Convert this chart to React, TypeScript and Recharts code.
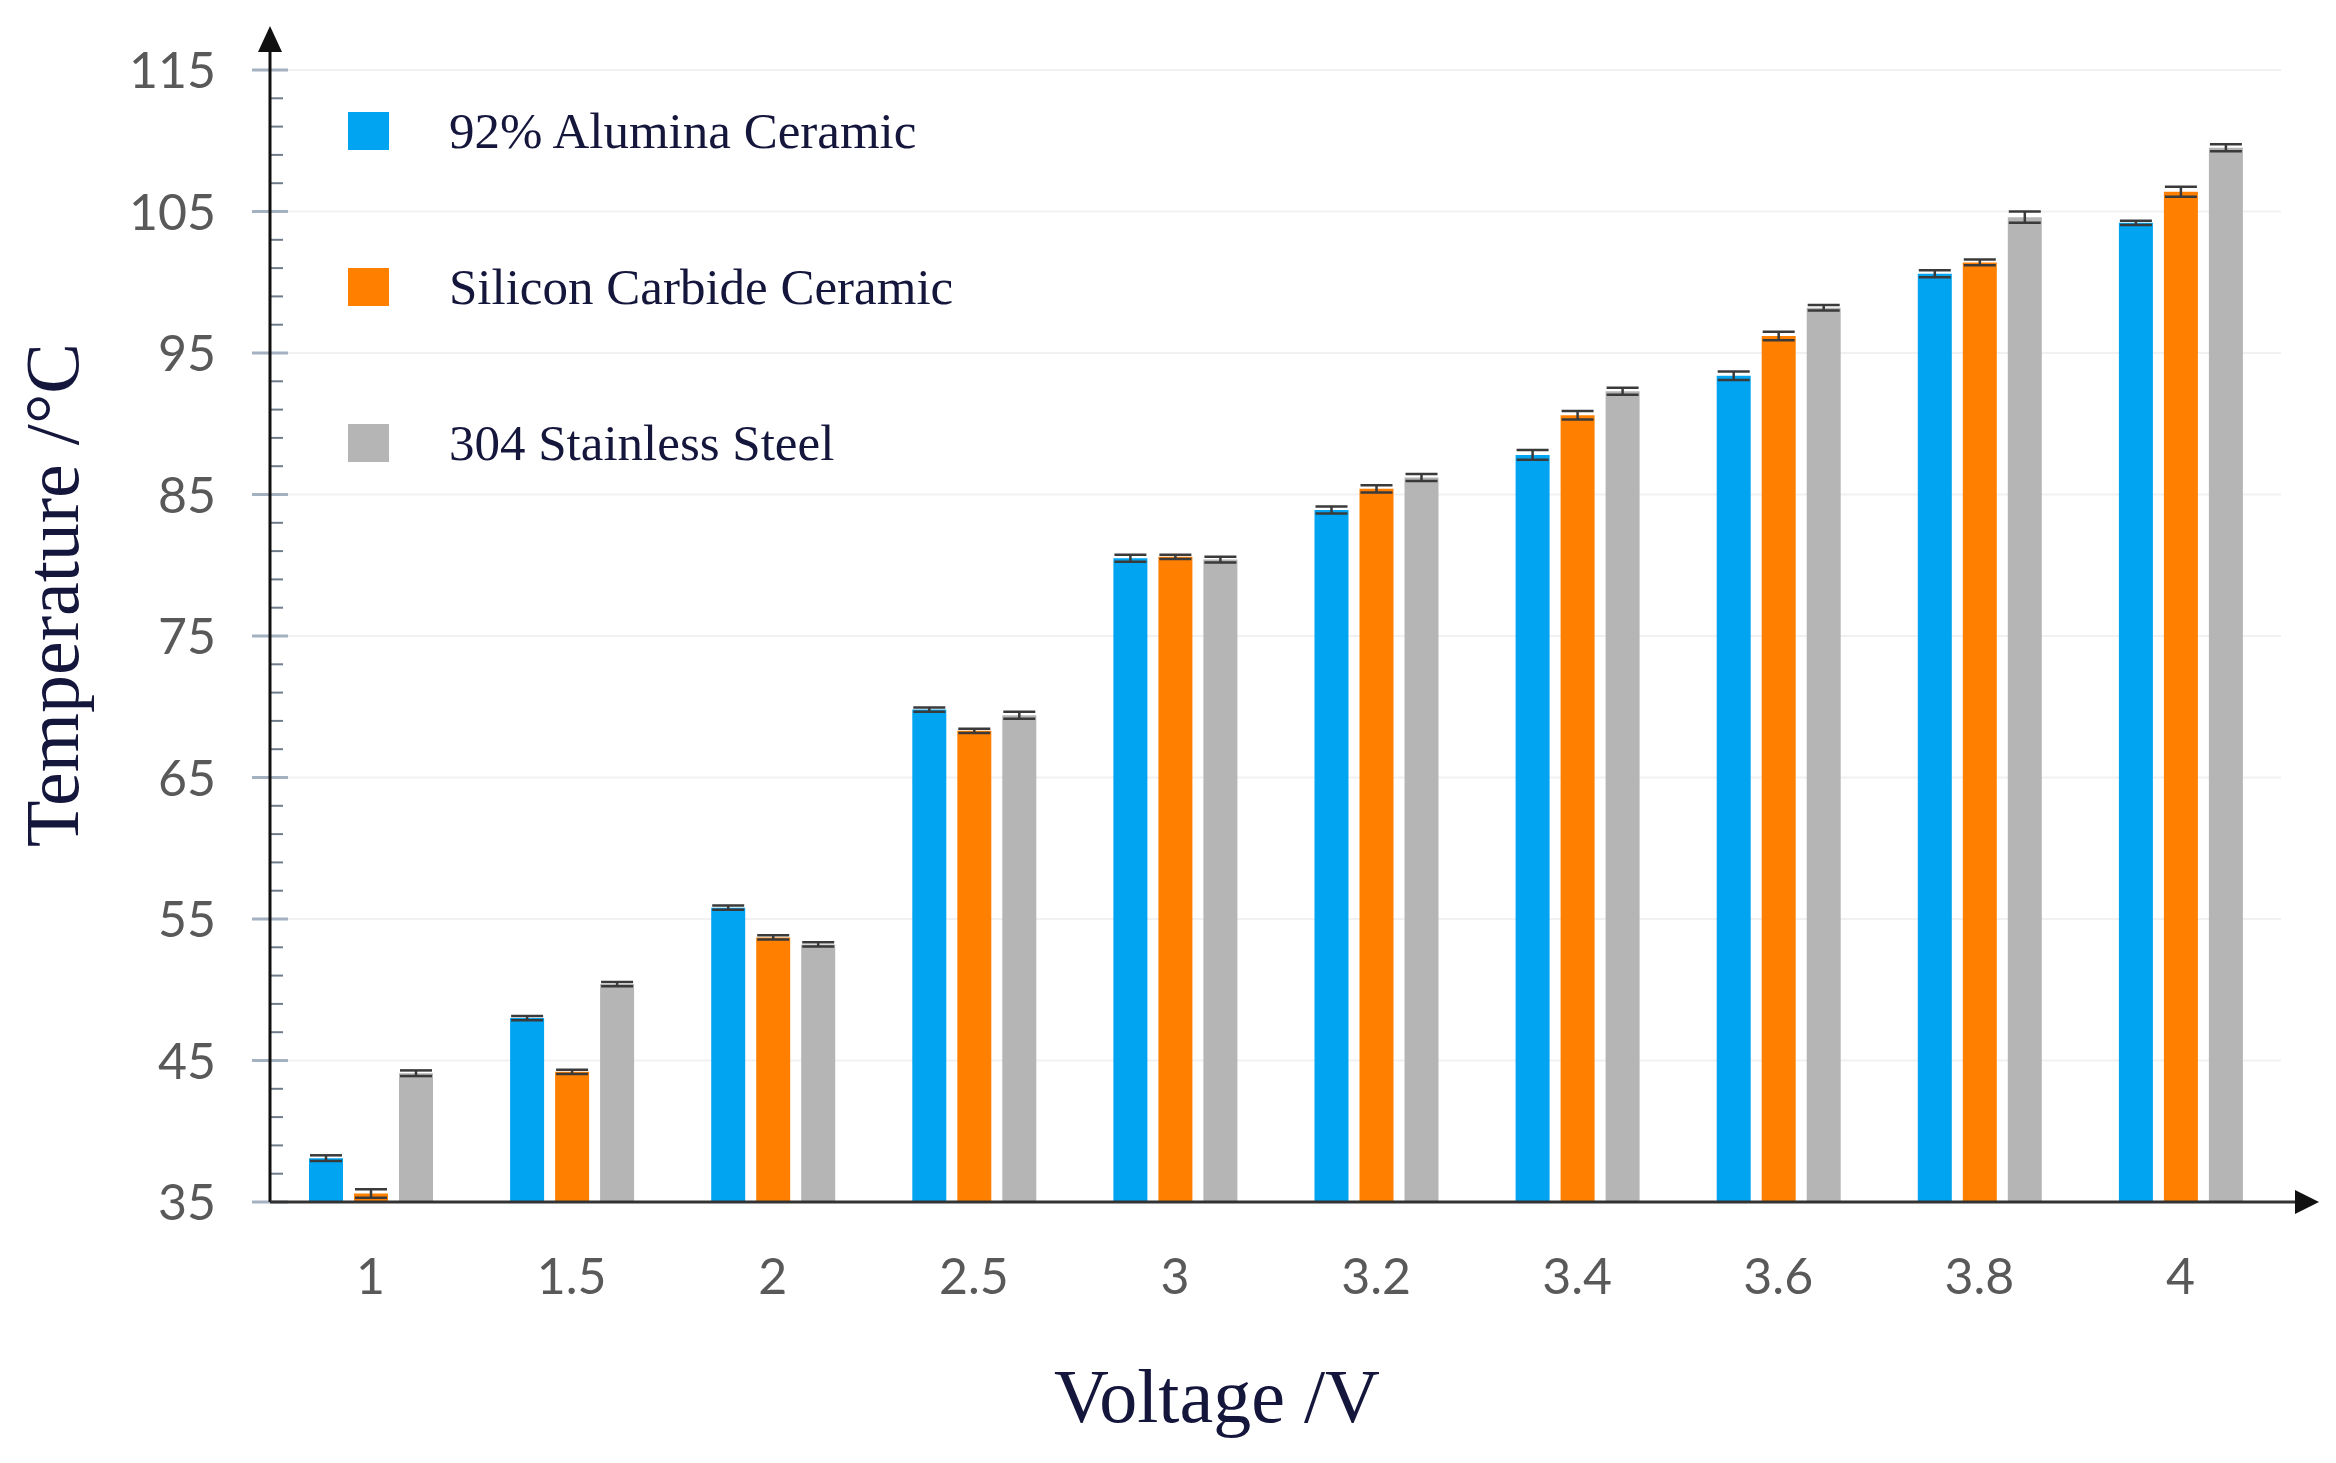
import React from 'react';
import {
  BarChart,
  Bar,
  XAxis,
  YAxis,
  ErrorBar,
  CartesianGrid,
  Legend,
} from 'recharts';

const voltages = ['1', '1.5', '2', '2.5', '3', '3.2', '3.4', '3.6', '3.8', '4'];

const alumina = [38.1, 48.0, 55.8, 69.8, 80.5, 83.9, 87.8, 93.4, 100.6, 104.2];
const aluminaErr = [0.2, 0.15, 0.15, 0.15, 0.25, 0.25, 0.35, 0.3, 0.25, 0.15];

const siliconCarbide = [35.6, 44.2, 53.7, 68.3, 80.6, 85.4, 90.6, 96.2, 101.4, 106.4];
const siliconCarbideErr = [0.3, 0.15, 0.15, 0.15, 0.15, 0.25, 0.3, 0.3, 0.2, 0.35];

const stainless = [44.1, 50.4, 53.2, 69.4, 80.4, 86.2, 92.3, 98.2, 104.6, 109.5];
const stainlessErr = [0.2, 0.15, 0.15, 0.25, 0.2, 0.25, 0.25, 0.2, 0.4, 0.25];

const majorTicks = [35, 45, 55, 65, 75, 85, 95, 105, 115];
const allTicks = Array.from({ length: 41 }, (_, i) => 35 + i * 2);

const seriesNames = ['92% Alumina Ceramic', 'Silicon Carbide Ceramic', '304 Stainless Steel'];
const colors = ['#00a4f0', '#ff8000', '#b5b5b5'];

const data = voltages.map((v, i) => ({
  voltage: v,
  alumina: alumina[i],
  aluminaErr: aluminaErr[i],
  sic: siliconCarbide[i],
  sicErr: siliconCarbideErr[i],
  steel: stainless[i],
  steelErr: stainlessErr[i],
}));

// layout
const W = 2336;
const H = 1463;
const PLOT_LEFT = 270;
const PLOT_RIGHT = 2281;
const PLOT_TOP = 70;
const PLOT_BOTTOM = 1202;
const Y_AXIS_W = 100;
const X_AXIS_H = 100;

const serif = '"Liberation Serif", "Times New Roman", serif';
const sans = 'Lato, "Open Sans", sans-serif';
const navy = '#15163c';

const YTick = (props: any) => {
  const { y, payload } = props;
  const v = payload.value;
  const major = majorTicks.includes(v);
  const x = PLOT_LEFT;
  if (!major) {
    return <line x1={x} x2={x + 13} y1={y} y2={y} stroke="#6f7c8a" strokeWidth={2} />;
  }
  return (
    <g>
      <line x1={x - 18} x2={x + 18} y1={y} y2={y} stroke="#a3b1c0" strokeWidth={3} />
      <text x={x - 54} y={y} dy="0.36em" textAnchor="end" fontSize={50} fontFamily={sans} fill="#595959">
        {v}
      </text>
    </g>
  );
};

const XTick = (props: any) => {
  const { x, payload } = props;
  return (
    <text x={x} y={PLOT_BOTTOM + 92} textAnchor="middle" fontSize={50} fontFamily={sans} fill="#595959">
      {payload.value}
    </text>
  );
};

const LegendBox = () => (
  <div style={{ fontFamily: serif }}>
    {seriesNames.map((name, i) => (
      <div key={name} style={{ display: 'flex', alignItems: 'center', height: 156 }}>
        <div style={{ width: 41, height: 38, background: colors[i] }} />
        <span style={{ marginLeft: 60, fontSize: 51, color: navy, whiteSpace: 'nowrap' }}>{name}</span>
      </div>
    ))}
  </div>
);

const gridRows = (args: any) => {
  const scale = args?.yAxis?.scale;
  return majorTicks.slice(1).map((t) =>
    typeof scale === 'function'
      ? scale(t)
      : PLOT_TOP + ((115 - t) / 80) * (PLOT_BOTTOM - PLOT_TOP),
  );
};

const App: React.FC = () => {
  return (
    <div style={{ position: 'absolute', left: 0, top: 0, width: W, height: H, background: '#fff' }}>
      <BarChart
        width={W}
        height={H}
        data={data}
        margin={{
          top: PLOT_TOP,
          left: PLOT_LEFT - Y_AXIS_W,
          right: W - PLOT_RIGHT,
          bottom: H - PLOT_BOTTOM - X_AXIS_H,
        }}
        barSize={34}
        barGap={11}
      >
        <CartesianGrid
          vertical={false}
          stroke="#f1f1f1"
          strokeWidth={2}
          horizontalCoordinatesGenerator={gridRows}
        />
        <XAxis
          dataKey="voltage"
          height={X_AXIS_H}
          axisLine={false}
          tickLine={false}
          tickSize={0}
          tick={<XTick />}
          interval={0}
        />
        <YAxis
          width={Y_AXIS_W}
          domain={[35, 115]}
          ticks={allTicks}
          interval={0}
          axisLine={false}
          tickLine={false}
          tickSize={0}
          tick={<YTick />}
          allowDataOverflow
        />
        <Legend
          layout="vertical"
          verticalAlign="middle"
          align="center"
          content={<LegendBox />}
          wrapperStyle={{ top: 53, left: 348, width: 700 }}
        />
        <Bar dataKey="alumina" name={seriesNames[0]} fill={colors[0]} isAnimationActive={false}>
          <ErrorBar dataKey="aluminaErr" width={16} stroke="#3a3a3a" strokeWidth={2.5} isAnimationActive={false} />
        </Bar>
        <Bar dataKey="sic" name={seriesNames[1]} fill={colors[1]} isAnimationActive={false}>
          <ErrorBar dataKey="sicErr" width={16} stroke="#3a3a3a" strokeWidth={2.5} isAnimationActive={false} />
        </Bar>
        <Bar dataKey="steel" name={seriesNames[2]} fill={colors[2]} isAnimationActive={false}>
          <ErrorBar dataKey="steelErr" width={16} stroke="#3a3a3a" strokeWidth={2.5} isAnimationActive={false} />
        </Bar>
      </BarChart>
      <svg
        width={W}
        height={H}
        style={{ position: 'absolute', left: 0, top: 0, pointerEvents: 'none' }}
      >
        {/* axes with arrow heads */}
        <line x1={PLOT_LEFT} x2={PLOT_LEFT} y1={PLOT_BOTTOM} y2={48} stroke="#111" strokeWidth={3} />
        <polygon points={`${PLOT_LEFT - 12},52 ${PLOT_LEFT},26 ${PLOT_LEFT + 12},52`} fill="#111" />
        <line x1={PLOT_LEFT} x2={PLOT_RIGHT + 20} y1={PLOT_BOTTOM} y2={PLOT_BOTTOM} stroke="#333" strokeWidth={3} />
        <polygon
          points={`${PLOT_RIGHT + 14},${PLOT_BOTTOM - 12} ${PLOT_RIGHT + 38},${PLOT_BOTTOM} ${PLOT_RIGHT + 14},${PLOT_BOTTOM + 12}`}
          fill="#111"
        />
        <text
          transform={`translate(78, 595) rotate(-90)`}
          textAnchor="middle"
          fontSize={76}
          fontFamily={serif}
          fill={navy}
        >
          Temperature /°C
        </text>
        <text x={1217} y={1422} textAnchor="middle" fontSize={76} fontFamily={serif} fill={navy}>
          Voltage /V
        </text>
      </svg>
    </div>
  );
};

export default App;
